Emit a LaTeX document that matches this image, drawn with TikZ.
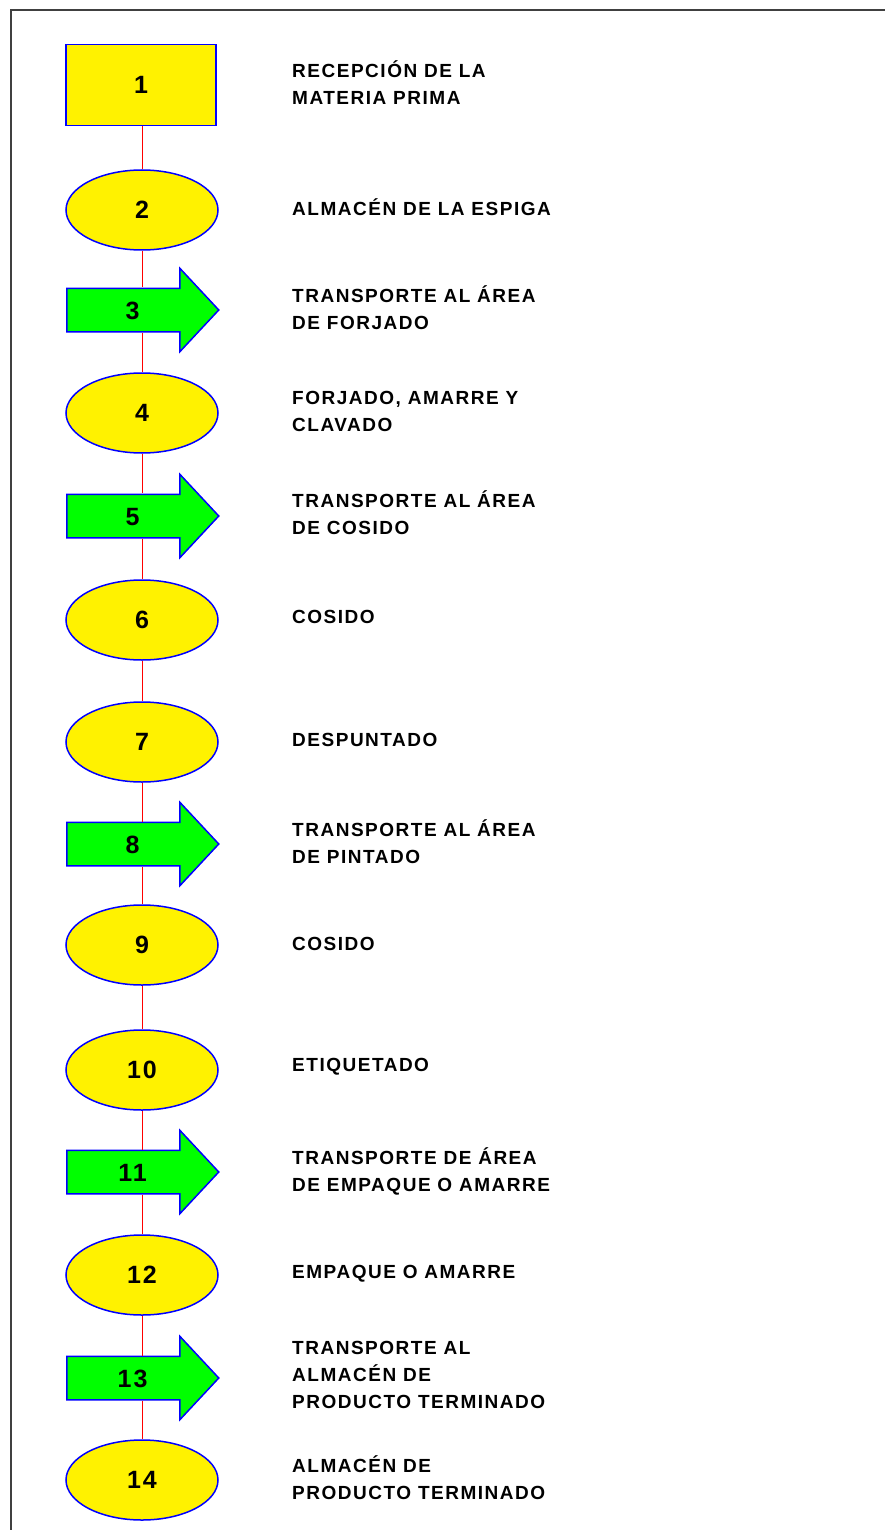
\documentclass[tikz,border=0pt]{standalone}
\usepackage{fontspec}
\setmainfont{Liberation Sans}[LetterSpace=8]
\usetikzlibrary{shapes.geometric,shapes.arrows}

\begin{document}
\begin{tikzpicture}[x=1pt,y=-1pt,font=\bfseries]
\tikzstyle{op}=[ellipse,draw=blue,line width=1.5pt,fill=yellow,minimum width=152pt,minimum height=80pt,inner sep=0,font=\fontsize{25}{28}\selectfont\bfseries]
\tikzstyle{rec}=[rectangle,draw=blue,line width=1.5pt,fill=yellow,minimum width=150pt,minimum height=81pt,inner sep=0,font=\fontsize{25}{28}\selectfont\bfseries]
\tikzstyle{tr}=[single arrow,draw=blue,line width=1.5pt,fill=green,minimum height=152pt,minimum width=82pt,single arrow head extend=20pt,single arrow tip angle=94,text height=18pt,text depth=0pt,inner ysep=12pt,anchor=tail,font=\fontsize{25}{28}\selectfont\bfseries]
\tikzstyle{txt}=[anchor=west,align=left,inner sep=0,font=\fontsize{19}{27}\selectfont\bfseries]
\tikzstyle{link}=[red,line width=0.8pt]

    \useasboundingbox (0,0) rectangle (885,1530);
    \draw[black!75,line width=2pt] (11,1530) -- (11,10) -- (885,10);

    \node[rec] (1) at (141,85){1};
    \node[op] (2) at (142,210){2};
    \node[tr] (3) at (66,310){3};
    \node[op] (4) at (142,413){4};
    \node[tr] (5) at (66,516){5};
    \node[op] (6) at (142,620){6};
    \node[op] (7) at (142,742){7};
    \node[tr] (8) at (66,844){8};
    \node[op] (9) at (142,945){9};
    \node[op] (10) at (142,1070){10};
    \node[tr] (11) at (66,1172){11};
    \node[op] (12) at (142,1275){12};
    \node[tr] (13) at (66,1378){13};
    \node[op] (14) at (142,1480){14};

    \node[txt] (t1) at (292,83){RECEPCIÓN DE LA\\MATERIA PRIMA};
    \node[txt] (t2) at (292,207){ALMACÉN DE LA ESPIGA};
    \node[txt] (t3) at (292,308){TRANSPORTE AL ÁREA\\DE FORJADO};
    \node[txt] (t4) at (292,411){FORJADO, AMARRE Y\\CLAVADO};
    \node[txt] (t5) at (292,513){TRANSPORTE AL ÁREA\\DE COSIDO};
    \node[txt] (t6) at (292,617){COSIDO};
    \node[txt] (t7) at (292,740){DESPUNTADO};
    \node[txt] (t8) at (292,842){TRANSPORTE AL ÁREA\\DE PINTADO};
    \node[txt] (t9) at (292,944){COSIDO};
    \node[txt] (t10) at (292,1067){ETIQUETADO};
    \node[txt] (t11) at (292,1171){TRANSPORTE DE ÁREA\\DE EMPAQUE O AMARRE};
    \node[txt] (t12) at (292,1274){EMPAQUE O AMARRE};
    \node[txt] (t13) at (292,1375){TRANSPORTE AL\\ALMACÉN DE\\PRODUCTO TERMINADO};
    \node[txt] (t14) at (292,1478){ALMACÉN DE\\PRODUCTO TERMINADO};

    \draw[link] (1.south -| 2.north) -- (2.north);
    \draw[link] (2.south) -- (2.south |- 3.north);
    \draw[link] (4.north |- 3.south) -- (4.north);
    \draw[link] (4.south) -- (4.south |- 5.north);
    \draw[link] (6.north |- 5.south) -- (6.north);
    \draw[link] (6.south) -- (7.north);
    \draw[link] (7.south) -- (7.south |- 8.north);
    \draw[link] (9.north |- 8.south) -- (9.north);
    \draw[link] (9.south) -- (10.north);
    \draw[link] (10.south) -- (10.south |- 11.north);
    \draw[link] (12.north |- 11.south) -- (12.north);
    \draw[link] (12.south) -- (12.south |- 13.north);
    \draw[link] (14.north |- 13.south) -- (14.north);

\end{tikzpicture}
\end{document}
